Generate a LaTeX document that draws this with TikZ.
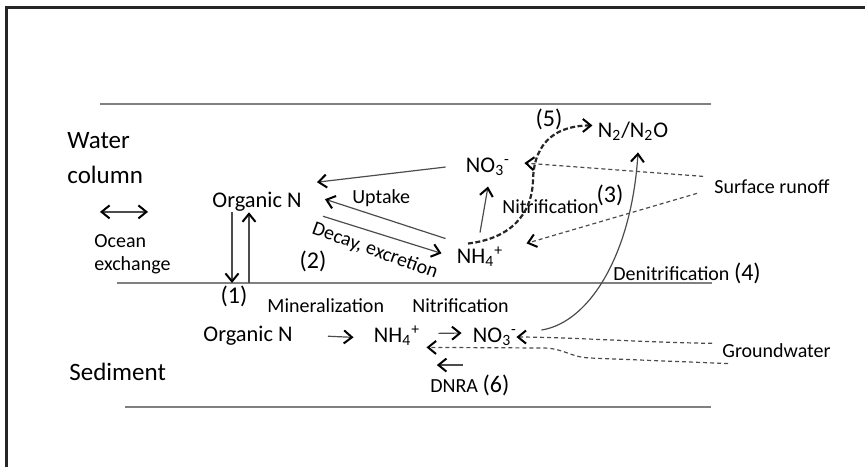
\documentclass[tikz,border=0pt]{standalone}
\usepackage{fontspec}
\setmainfont{Carlito}
\usetikzlibrary{arrows.meta,calc}
\tikzset{
  layerline/.style={draw=black!50,line width=1.3pt},
  framelink/.style={draw=black!85,line width=1.5pt},
  flowarrow/.style={->,draw=black!70,line width=0.6pt},
  inputarrow/.style={flowarrow,dash pattern=on 2pt off 1.5pt},
  gasarrow/.style={->,draw=black!85,line width=1.1pt,dash pattern=on 2.5pt off 1.2pt},
  chem/.style={font=\fontsize{11.2}{13.5}\selectfont,inner sep=0pt,anchor=base},
  zonelabel/.style={font=\fontsize{12.5}{17.5}\selectfont,align=left,inner sep=0pt},
  proclabel/.style={font=\fontsize{10}{11.5}\selectfont,inner sep=0pt},
  steplabel/.style={font=\fontsize{12}{14}\selectfont,inner sep=0pt}
}

\begin{document}
\begin{tikzpicture}[x=0.5pt,y=-0.5pt,
    >={Straight Barb[length=4pt,width=6.5pt,line width=1pt,color=black]}]
  \useasboundingbox (0,0) rectangle (865,467);
  % frame and layer boundaries
  \draw[framelink] (865,7) -- (6,7) -- (6,467);
  \coordinate (topL) at (100,104);
  \coordinate (topR) at (711,104);
  \coordinate (midL) at (117,283);
  \coordinate (midR) at (712,283);
  \coordinate (botL) at (125,407);
  \coordinate (botR) at (711,407);
  \draw[layerline] (topL) -- (topR);
  \draw[layerline] (midL) -- (midR);
  \draw[layerline] (botL) -- (botR);

  % compartments
  \node[zonelabel,anchor=west] (water) at (67,158) {Water\\column};
  \node[proclabel,align=left,anchor=west] (ocean) at (94,254) {Ocean\\exchange};
  \node[zonelabel,anchor=base west] (sediment) at (69,380) {Sediment};

  % nitrogen pools
  \node[chem] (wOrgN) at (257,207) {Organic N};
  \node[chem] (wNO3) at (488,172) {NO\textsubscript{3}\textsuperscript{-}};
  \node[chem] (wNH4) at (480,263) {NH\textsubscript{4}\textsuperscript{+}};
  \node[chem] (gas) at (633,137) {N\textsubscript{2}/N\textsubscript{2}O};
  \node[chem] (sOrgN) at (248,341) {Organic N};
  \node[chem] (sNH4) at (397,342) {NH\textsubscript{4}\textsuperscript{+}};
  \node[chem] (sNO3) at (495,342) {NO\textsubscript{3}\textsuperscript{-}};

  % process labels
  \node[proclabel,anchor=base west] (uptake) at (352,203) {Uptake};
  \node[proclabel,rotate=-20] (decay) at (375,251) {Decay, excretion};
  \node[steplabel] (s1) at (234,296) {(1)};
  \node[steplabel] (s2) at (313,261) {(2)};
  \node[steplabel] (s3) at (610,195) {(3)};
  \node[steplabel] (s5) at (549,119) {(5)};
  \node[proclabel,anchor=base west] (nitW) at (502,213) {Nitrification};
  \node[proclabel,anchor=base west] (runoff) at (714,193) {Surface runoff};
  \node[proclabel,anchor=base west] (denit) at (613,280)
    {Denitrification {\fontsize{12}{14}\selectfont(4)}};
  \node[proclabel,anchor=base west] (miner) at (267,312) {Mineralization};
  \node[proclabel,anchor=base west] (nitS) at (412,312) {Nitrification};
  \node[proclabel,anchor=base west] (ground) at (722,357) {Groundwater};
  \node[proclabel,anchor=base west] (dnra) at (430,392)
    {DNRA {\fontsize{12}{14}\selectfont(6)}};

  % water column fluxes
  \draw[flowarrow,<->] ($(ocean.north west)+(6,-22)$) -- ++(48,0);
  \draw[flowarrow] ($(wNO3.west)+(-20,0.6)$) -- ($(wOrgN.north east)+(15,-9)$);
  \draw[flowarrow] ($(wNH4.north west)+(-11,-7.5)$) -- ($(wOrgN.east)+(23,-2)$);
  \draw[flowarrow] ($(wOrgN.south east)+(21,5)$) -- ($(wNH4.west)+(-15,-3)$);
  \draw[flowarrow] ($(wNH4.north)+(0,-13.5)$) -- ($(wNO3.south)+(0,10.7)$);
  \coordinate (sink) at ($(wOrgN.south)+(-25,1)$);
  \coordinate (rise) at ($(wOrgN.south)+(-8,1)$);
  \draw[flowarrow] (sink) -- (sink |- midL);
  \draw[flowarrow] (rise |- midL) -- (rise);
  \draw[gasarrow] ($(wNH4.north)+(-12,-2.5)$) .. controls +(42,-5) and +(-1,35) .. (533,180)
    .. controls +(1,-40) and +(-34,0) .. ($(gas.west)+(-5,-5.4)$);
  \draw[inputarrow] ($(runoff.west)+(-11,-9.8)$) -- ($(wNO3.east)+(14,-3.4)$);
  \draw[inputarrow] ($(runoff.west)+(-17,7.2)$) -- ($(wNH4.east)+(23,-13)$);

  % sediment fluxes
  \draw[flowarrow] ($(sNO3.east)+(24,-6.4)$) .. controls +(50,-8) and +(-6,98) .. ($(gas.south)+(5,11.7)$);
  \draw[flowarrow] ($(sOrgN.east)+(35,1)$) -- ($(sNH4.west)+(-20,2)$);
  \draw[flowarrow] ($(sNH4.east)+(18,-2)$) -- ($(sNO3.west)+(-11,-3.4)$);
  \draw[inputarrow] ($(ground.west)+(-10,-6.8)$) .. controls +(-70,-1) and +(50,0) .. ($(sNO3.east)+(-1,0.6)$);
  \draw[inputarrow] ($(ground.south west)+(6,6)$) -- (590,358) .. controls (570,357) and (565,349) .. (545,348)
    -- ($(sNH4.south east)+(6,1.7)$);
  \draw[flowarrow] ($(dnra.north)+(-7,-9)$) -- ++(-26,0);
\end{tikzpicture}
\end{document}
